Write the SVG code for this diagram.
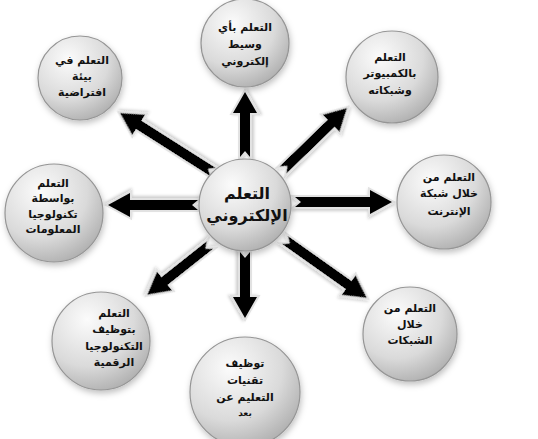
<svg xmlns="http://www.w3.org/2000/svg" width="538" height="439" viewBox="0 0 538 439">
<defs>
<radialGradient id="g" cx="0.36" cy="0.28" r="0.8">
<stop offset="0" stop-color="#fbfbfb"/>
<stop offset="0.6" stop-color="#dadada"/>
<stop offset="1" stop-color="#ababab"/>
</radialGradient>
<filter id="sh" x="-30%" y="-30%" width="160%" height="160%">
<feDropShadow dx="1" dy="3" stdDeviation="3" flood-color="#000" flood-opacity="0.25"/>
</filter>
<filter id="ash" x="-30%" y="-50%" width="160%" height="200%">
<feDropShadow dx="0" dy="2" stdDeviation="1.5" flood-color="#000" flood-opacity="0.2"/>
</filter>
</defs>
<style>
.c{fill:url(#g);stroke:#959595;stroke-width:1.2;filter:url(#sh)}
.t{font-family:"DejaVu Sans",sans-serif;font-size:11px;font-weight:bold;fill:#111;text-anchor:middle}
.tc{font-family:"DejaVu Sans",sans-serif;font-size:16px;font-weight:bold;fill:#111;text-anchor:middle}
.a{fill:#000;stroke:#e2e2e2;stroke-width:4;stroke-linejoin:miter;paint-order:stroke;filter:url(#ash)}
</style>
<rect width="538" height="439" fill="#fff"/>
<g id="connectors">
<g transform="translate(245,157) rotate(-90)"><path class="a" d="M0,-5 L44,-5 L44,-12 L65,0 L44,12 L44,5 L0,5 L6,0 Z"/></g>
<g transform="translate(213,172) rotate(-147.6)"><path class="a" d="M0,-5 L88,-5 L88,-12 L110,0 L88,12 L88,5 L0,5 L6,0 Z"/></g>
<g transform="translate(198,205) rotate(180)"><path class="a" d="M0,-5 L68,-5 L68,-12 L90,0 L68,12 L68,5 L0,5 L6,0 Z"/></g>
<g transform="translate(283,170) rotate(-44.1)"><path class="a" d="M0,-5 L67,-5 L67,-12 L89,0 L67,12 L67,5 L0,5 L6,0 Z"/></g>
<g transform="translate(295,202)"><path class="a" d="M0,-5 L75,-5 L75,-12 L97,0 L75,12 L75,5 L0,5 L6,0 Z"/></g>
<g transform="translate(285,240) rotate(35.3)"><path class="a" d="M0,-5 L78,-5 L78,-12 L100,0 L78,12 L78,5 L0,5 L6,0 Z"/></g>
<g transform="translate(245,252) rotate(90)"><path class="a" d="M0,-5 L45,-5 L45,-12 L66,0 L45,12 L45,5 L0,5 L6,0 Z"/></g>
<g transform="translate(210,245) rotate(141.6)"><path class="a" d="M0,-5 L58,-5 L58,-12 L80,0 L58,12 L58,5 L0,5 L6,0 Z"/></g>
</g>
<g id="center">
<circle class="c" cx="245" cy="205" r="46"/>
<text class="tc" x="247" y="199">التعلم</text>
<text class="tc" x="247" y="221">الإلكتروني</text>
</g>
<g id="top">
<circle class="c" cx="245" cy="43" r="44"/>
<text class="t" x="245" y="31">التعلم بأي</text>
<text class="t" x="245" y="48">وسيط</text>
<text class="t" x="245" y="65">إلكتروني</text>
</g>
<g id="topleft">
<circle class="c" cx="80" cy="78" r="42"/>
<text class="t" x="82" y="64">التعلم في</text>
<text class="t" x="82" y="80">بيئة</text>
<text class="t" x="82" y="96">افتراضية</text>
</g>
<g id="topright">
<circle class="c" cx="392" cy="77" r="46"/>
<text class="t" x="390" y="61">التعلم</text>
<text class="t" x="390" y="77">بالكمبيوتر</text>
<text class="t" x="390" y="94">وشبكاته</text>
</g>
<g id="right">
<circle class="c" cx="444" cy="202" r="47"/>
<text class="t" x="449" y="181">التعلم من</text>
<text class="t" x="449" y="197">خلال شبكة</text>
<text class="t" x="449" y="215">الإنترنت</text>
</g>
<g id="bottomright">
<circle class="c" cx="410" cy="334" r="47"/>
<text class="t" x="410" y="312">التعلم من</text>
<text class="t" x="410" y="328">خلال</text>
<text class="t" x="410" y="344">الشبكات</text>
</g>
<g id="bottom">
<circle class="c" cx="245" cy="392" r="55"/>
<text class="t" x="245" y="367">توظيف</text>
<text class="t" x="245" y="384">تقنيات</text>
<text class="t" x="245" y="401">التعليم عن</text>
<text class="t" x="245" y="416" style="font-size:9px">بعد</text>
</g>
<g id="bottomleft">
<circle class="c" cx="101" cy="341" r="49"/>
<text class="t" x="114" y="317">التعلم</text>
<text class="t" x="114" y="333">بتوظيف</text>
<text class="t" x="114" y="350">التكنولوجيا</text>
<text class="t" x="114" y="366">الرقمية</text>
</g>
<g id="left">
<circle class="c" cx="54" cy="213" r="49"/>
<text class="t" x="53" y="187">التعلم</text>
<text class="t" x="53" y="202">بواسطة</text>
<text class="t" x="53" y="218">تكنولوجيا</text>
<text class="t" x="53" y="233">المعلومات</text>
</g>
</svg>
